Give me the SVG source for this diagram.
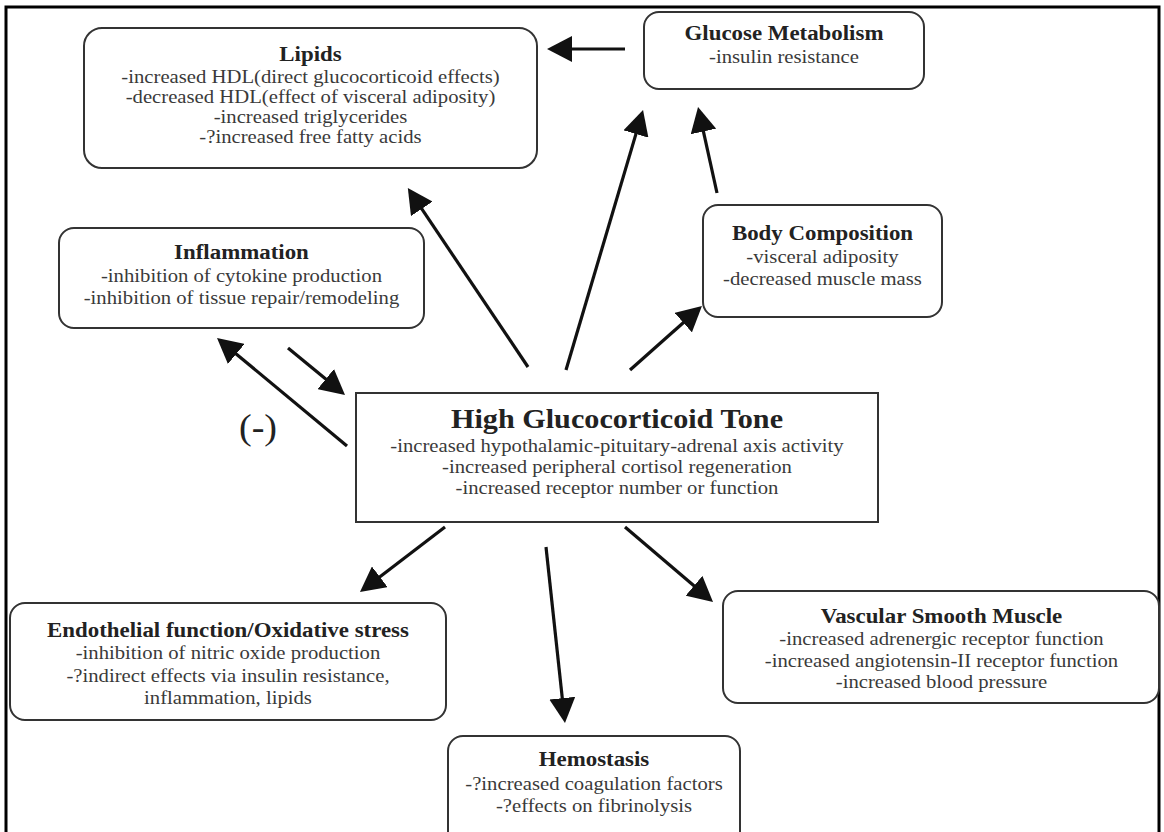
<svg xmlns="http://www.w3.org/2000/svg" width="1164" height="832" viewBox="0 0 1164 832">
<style>
.box{fill:#fff;stroke:#333;stroke-width:2}
.frame{fill:none;stroke:#000;stroke-width:3}
.t{font-family:"Liberation Serif","Times New Roman",serif;font-weight:bold;font-size:21px;fill:#222;text-anchor:middle}
.b{font-family:"Liberation Serif","Times New Roman",serif;font-size:19px;fill:#3a3a3a;text-anchor:middle}
.big{font-family:"Liberation Serif","Times New Roman",serif;font-weight:bold;font-size:27.7px;fill:#222;text-anchor:middle}
.neg{font-family:"Liberation Serif","Times New Roman",serif;font-size:35px;fill:#222;text-anchor:middle}
.c{fill:none;stroke:#111;stroke-width:3.2}
</style>
<defs>
<marker id="ah" markerUnits="userSpaceOnUse" viewBox="0 0 25 26" markerWidth="25" markerHeight="26" refX="15" refY="13" orient="auto">
<path d="M0,0 L25,13 L0,26 z" fill="#111"/>
</marker>
</defs>
<rect width="1164" height="832" fill="#fff"/>
<rect class="frame" x="6" y="7" width="1153" height="840"/>

<g id="connectors">
<line class="c" x1="625" y1="49" x2="557" y2="49" marker-end="url(#ah)"/>
<line class="c" x1="528" y1="367" x2="413.4" y2="196.4" marker-end="url(#ah)"/>
<line class="c" x1="566" y1="370" x2="640.2" y2="119.6" marker-end="url(#ah)"/>
<line class="c" x1="717" y1="193" x2="700.2" y2="116.8" marker-end="url(#ah)"/>
<line class="c" x1="630" y1="370" x2="694.5" y2="312.7" marker-end="url(#ah)"/>
<line class="c" x1="347" y1="446" x2="224.7" y2="344.4" marker-end="url(#ah)"/>
<line class="c" x1="288" y1="348" x2="337.3" y2="388.6" marker-end="url(#ah)"/>
<line class="c" x1="445" y1="527" x2="367.9" y2="585.9" marker-end="url(#ah)"/>
<line class="c" x1="546" y1="547" x2="563.9" y2="713.1" marker-end="url(#ah)"/>
<line class="c" x1="625" y1="527" x2="705.4" y2="595.5" marker-end="url(#ah)"/>
</g>

<g id="lipids">
<rect class="box" x="84" y="28" width="453" height="140" rx="18"/>
<g transform="matrix(1.09,0,0,1,-27.945,0)">
<text class="t" x="310.5" y="61">Lipids</text>
<text class="b" x="310.5" y="83">-increased HDL(direct glucocorticoid effects)</text>
<text class="b" x="310.5" y="103">-decreased HDL(effect of visceral adiposity)</text>
<text class="b" x="310.5" y="123">-increased triglycerides</text>
<text class="b" x="310.5" y="143">-?increased free fatty acids</text>
</g>
</g>

<g id="glucose">
<rect class="box" x="644" y="12" width="280" height="77" rx="15"/>
<g transform="matrix(1.09,0,0,1,-70.56,0)">
<text class="t" x="784" y="40">Glucose Metabolism</text>
<text class="b" x="784" y="63">-insulin resistance</text>
</g>
</g>

<g id="body">
<rect class="box" x="703" y="205" width="239" height="112" rx="15"/>
<g transform="matrix(1.09,0,0,1,-74.025,0)">
<text class="t" x="822.5" y="240">Body Composition</text>
<text class="b" x="822.5" y="263">-visceral adiposity</text>
<text class="b" x="822.5" y="285">-decreased muscle mass</text>
</g>
</g>

<g id="inflammation">
<rect class="box" x="59" y="228" width="365" height="100" rx="15"/>
<g transform="matrix(1.09,0,0,1,-21.735,0)">
<text class="t" x="241.5" y="259">Inflammation</text>
<text class="b" x="241.5" y="282">-inhibition of cytokine production</text>
<text class="b" x="241.5" y="304">-inhibition of tissue repair/remodeling</text>
</g>
</g>

<g id="neg">
<text class="neg" transform="matrix(1.09,0,0,1,-23.22,0)" x="258" y="439">(-)</text>
</g>

<g id="center">
<rect class="box" x="356" y="393" width="522" height="129"/>
<g transform="matrix(1.09,0,0,1,-55.53,0)">
<text class="big" x="617" y="428">High Glucocorticoid Tone</text>
<text class="b" x="617" y="452">-increased hypothalamic-pituitary-adrenal axis activity</text>
<text class="b" x="617" y="473">-increased peripheral cortisol regeneration</text>
<text class="b" x="617" y="494">-increased receptor number or function</text>
</g>
</g>

<g id="endothelial">
<rect class="box" x="10" y="603" width="436" height="117" rx="15"/>
<g transform="matrix(1.09,0,0,1,-20.52,0)">
<text class="t" x="228" y="637">Endothelial function/Oxidative stress</text>
<text class="b" x="228" y="659">-inhibition of nitric oxide production</text>
<text class="b" x="228" y="682">-?indirect effects via insulin resistance,</text>
<text class="b" x="228" y="704">inflammation, lipids</text>
</g>
</g>

<g id="vascular">
<rect class="box" x="723" y="591" width="436" height="112" rx="15"/>
<g transform="matrix(1.09,0,0,1,-84.735,0)">
<text class="t" x="941.5" y="623">Vascular Smooth Muscle</text>
<text class="b" x="941.5" y="645">-increased adrenergic receptor function</text>
<text class="b" x="941.5" y="667">-increased angiotensin-II receptor function</text>
<text class="b" x="941.5" y="688">-increased blood pressure</text>
</g>
</g>

<g id="hemostasis">
<rect class="box" x="448" y="736" width="292" height="110" rx="15"/>
<g transform="matrix(1.09,0,0,1,-53.46,0)">
<text class="t" x="594" y="766">Hemostasis</text>
<text class="b" x="594" y="790">-?increased coagulation factors</text>
<text class="b" x="594" y="812">-?effects on fibrinolysis</text>
</g>
</g>
</svg>
